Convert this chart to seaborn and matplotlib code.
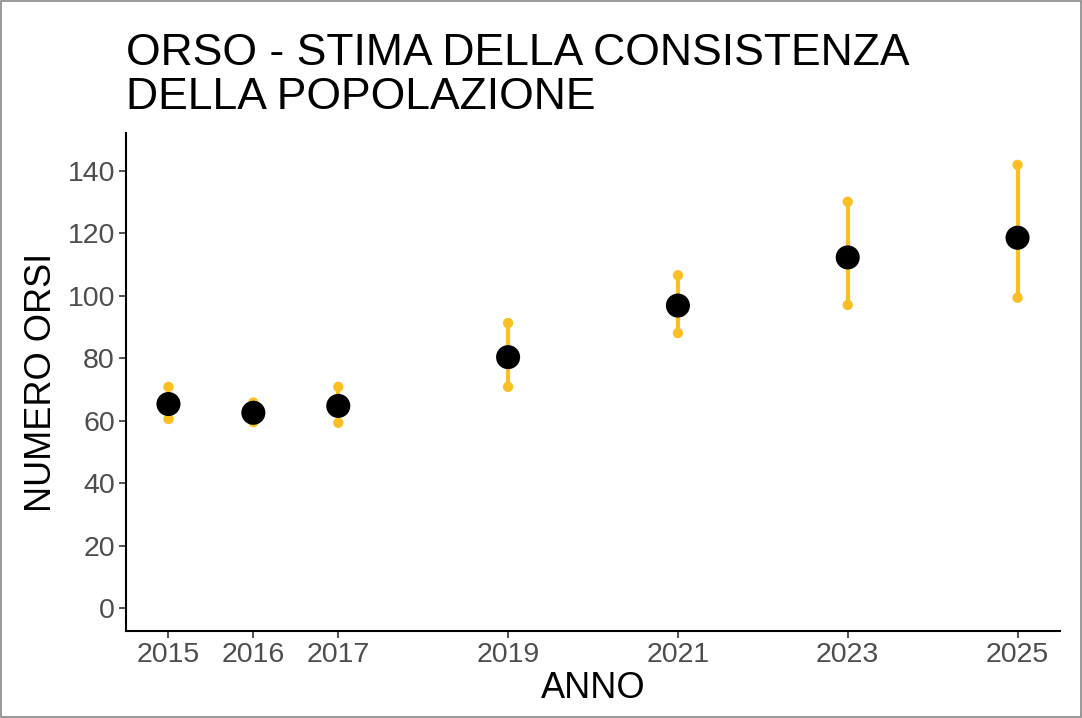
import matplotlib.pyplot as plt
import pandas as pd
import seaborn as sns

# Population estimates
anni = [2015, 2016, 2017, 2019, 2021, 2023, 2025]
stima = [65.3, 62.5, 64.7, 80.3, 96.8, 112.2, 118.5]
minimo = [60.5, 59.5, 59.3, 70.8, 88.0, 97.0, 99.3]
massimo = [70.8, 65.8, 70.8, 91.2, 106.5, 130.0, 141.8]
y_ticks = [0, 20, 40, 60, 80, 100, 120, 140]

df = pd.DataFrame({'Anno': anni, 'Stima': stima, 'Min': minimo, 'Max': massimo})

sns.set_theme(style="ticks")
plt.rcParams['font.family'] = ['Liberation Sans', 'DejaVu Sans']
plt.rcParams['text.color'] = 'black'
plt.rcParams['axes.labelcolor'] = 'black'

fig = plt.figure(figsize=(10.82, 7.18), dpi=100)
ax = fig.add_axes([126 / 1082, 1 - 631 / 718, (1060 - 126) / 1082, (631 - 133) / 718])

yellow = '#FBBF24'
ax.vlines(df['Anno'], df['Min'], df['Max'], color=yellow, linewidth=3, zorder=1)
sns.scatterplot(data=df, x='Anno', y='Min', color=yellow, s=55, edgecolor='none', ax=ax, zorder=2)
sns.scatterplot(data=df, x='Anno', y='Max', color=yellow, s=55, edgecolor='none', ax=ax, zorder=2)
sns.scatterplot(data=df, x='Anno', y='Stima', color='black', s=300, edgecolor='none', ax=ax, zorder=3)

ax.set_xlim(2014.5, 2025.5)
ax.set_ylim(-7.3, 152)
ax.set_xticks(anni)
ax.set_yticks(y_ticks)
ax.tick_params(axis='both', labelsize=20.5, labelcolor='#4D4D4D', color='#333333',
               length=5, width=1.2, pad=3)
for side in ['top', 'right']:
    ax.spines[side].set_visible(False)
for side in ['left', 'bottom']:
    ax.spines[side].set_linewidth(1.5)
    ax.spines[side].set_color('black')

ax.set_xlabel('ANNO', fontsize=26, labelpad=2)
ax.set_ylabel('NUMERO ORSI', fontsize=26, labelpad=6)
ax.set_title('ORSO - STIMA DELLA CONSISTENZA\nDELLA POPOLAZIONE', fontsize=32,
             loc='left', pad=17, linespacing=1.12, color='black')

# thin gray frame around the whole picture
fig.patches.append(plt.Rectangle((0.001, 0.001), 0.998, 0.998, transform=fig.transFigure,
                                 fill=False, edgecolor='#888888', linewidth=1.2))

fig.savefig('out.png', dpi=100)
